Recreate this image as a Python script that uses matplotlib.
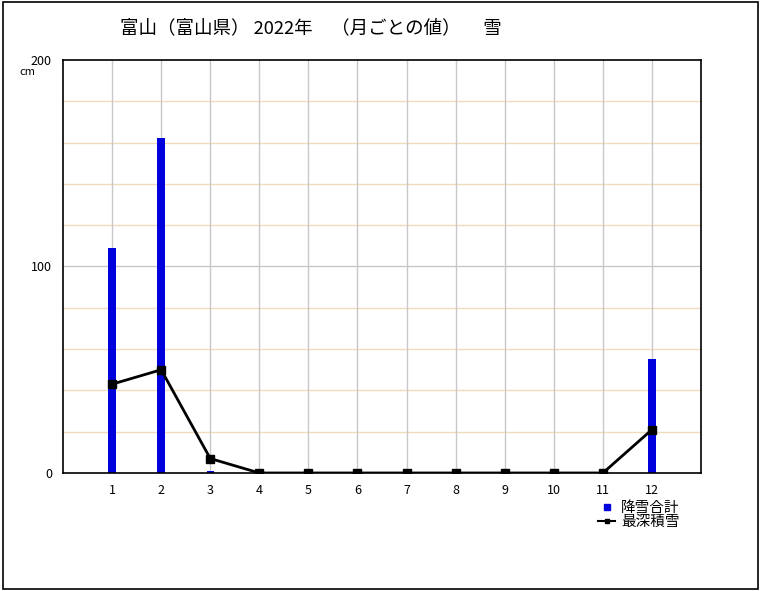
import matplotlib.pyplot as plt
from matplotlib.patches import Rectangle
from matplotlib.lines import Line2D

plt.rcParams['font.family'] = ['Noto Sans CJK JP', 'DejaVu Sans']

months = list(range(1, 13))
snowfall = [109, 162, 1, 0, 0, 0, 0, 0, 0, 0, 0, 55]
max_depth = [43, 50, 7, 0, 0, 0, 0, 0, 0, 0, 0, 21]
title = "富山（富山県） 2022年　（月ごとの値）　 雪"

fig = plt.figure(figsize=(7.62, 5.91), dpi=100)
ax = fig.add_axes([0.0827, 0.1997, 0.8373, 0.6988])

for y in [20, 40, 60, 80, 120, 140, 160, 180]:
    ax.axhline(y, color="#f0dcbc", lw=1, zorder=0)
ax.axhline(100, color="#c8c8c8", lw=1, zorder=0)
for m in months:
    ax.axvline(m, color="#c8c8c8", lw=1, zorder=0)

ax.bar(months, snowfall, width=0.15, color="#0000dd", zorder=2)
ax.plot(months, max_depth, color="black", lw=2, marker="s", ms=6, zorder=3)

ax.set_xlim(0, 13)
ax.set_ylim(0, 200)
ax.set_xticks(months)
ax.set_yticks([0, 100, 200])
ax.tick_params(length=0, labelsize=9, pad=8)
for s in ax.spines.values():
    s.set_linewidth(1.2)

fig.text(0.026, 0.873, "cm", fontsize=8)
fig.text(0.158, 0.952, title, fontsize=13.3, va="center")

handles = [
    Line2D([], [], ls="none", marker="s", color="#0000dd", ms=5),
    Line2D([], [], color="black", lw=1.5, marker="s", ms=3),
]
fig.legend(handles, ["降雪合計", "最深積雪"], loc="upper left",
           bbox_to_anchor=(0.775, 0.165), frameon=False, fontsize=10.5,
           handlelength=1.2, handletextpad=0.4, labelspacing=0.0, borderpad=0)

fig.add_artist(Rectangle((0.004, 0.003), 0.991, 0.994, transform=fig.transFigure,
                         fill=False, lw=1.2, color="black"))

fig.savefig("out.png", dpi=100)
